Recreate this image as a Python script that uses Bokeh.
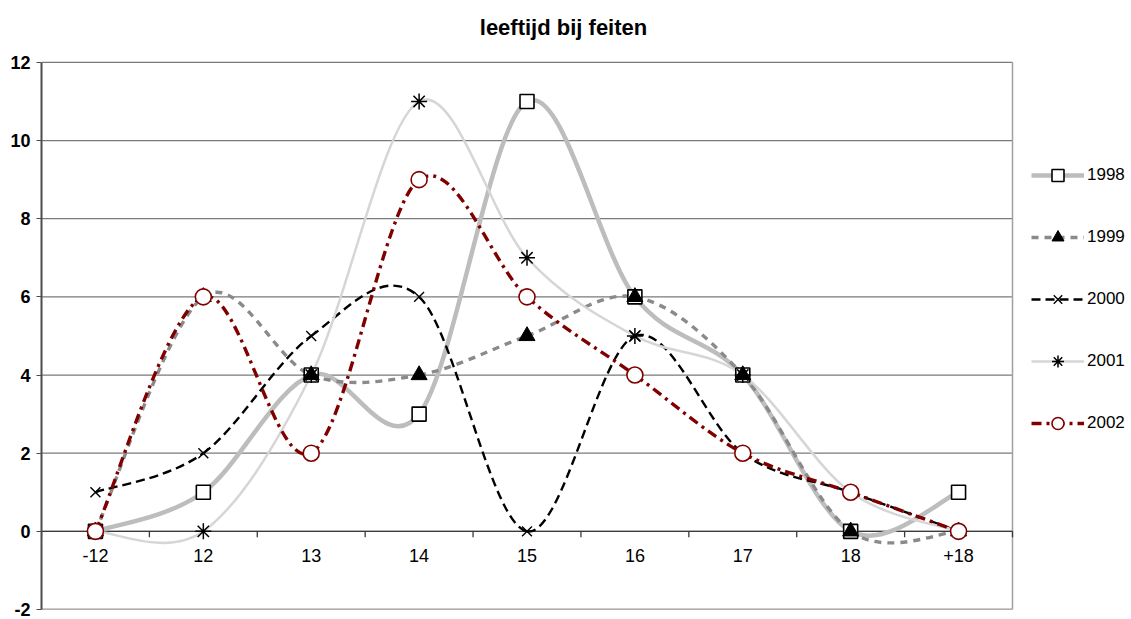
import numpy as np
from bokeh.plotting import figure
from bokeh.models import Range1d, FixedTicker, Legend, LegendItem
from bokeh.embed import file_html
from bokeh.resources import INLINE
from bokeh.core.properties import value

categories = ["-12", "12", "13", "14", "15", "16", "17", "18", "+18"]
years = ["1998", "1999", "2000", "2001", "2002"]
s1998 = [0, 1, 4, 3, 11, 6, 4, 0, 1]
s1999 = [0, 6, 4, 4, 5, 6, 4, 0, 0]
s2000 = [1, 2, 5, 6, 0, 5, 2, 1, 0]
s2001 = [0, 0, 4, 11, 7, 5, 4, 1, 0]
s2002 = [0, 6, 2, 9, 6, 4, 2, 1, 0]
y_ticks = [-2, 0, 2, 4, 6, 8, 10, 12]
title_text = "leeftijd bij feiten"
series = [s1998, s1999, s2000, s2001, s2002]

FONT = "Liberation Sans"

styles = [
    dict(line_color="#bdbdbd", line_width=4.5, line_dash="solid"),
    dict(line_color="#8a8a8a", line_width=3.4, line_dash="7 6"),
    dict(line_color="#000000", line_width=2.4, line_dash="9 5"),
    dict(line_color="#d6d6d6", line_width=2.5, line_dash="solid"),
    dict(line_color="#800000", line_width=3.4, line_dash="10 5 3 5"),
]
markers = [
    dict(marker="square", size=14, fill_color="white", line_color="black", line_width=1.6),
    dict(marker="triangle", size=16, fill_color="black", line_color="black", line_width=1),
    dict(marker="x", size=14, fill_color=None, line_color="black", line_width=1.4),
    dict(marker="asterisk", size=16, fill_color=None, line_color="black", line_width=1.5),
    dict(marker="circle", size=16, fill_color="white", line_color="#800000", line_width=1.6),
]

# layout (pixels): plot area is 971 x 548 starting at (41, 62); the frame
# extends to the top and right so that title and legend can sit inside it
W, H = 1128, 619
LEFT, PLOT_TOP, BOTTOM = 41, 62, 10
PLOT_W, PLOT_H = 971, 548
TITLE_CX, TITLE_CY = 563, 27
FRAME_W = W - LEFT
n = len(categories)
ymin, ymax = min(y_ticks), max(y_ticks)
px_x = PLOT_W / n
px_y = PLOT_H / (ymax - ymin)
x_end = -0.5 + FRAME_W / px_x
y_end = ymax + PLOT_TOP / px_y
edge = n - 0.5

p = figure(width=W, height=H, output_backend="svg", toolbar_location=None,
           x_range=Range1d(-0.5, x_end), y_range=Range1d(ymin, y_end),
           x_axis_location=None, min_border_left=LEFT, min_border_top=0,
           min_border_right=0, min_border_bottom=BOTTOM,
           background_fill_color="white", border_fill_color="white")
p.outline_line_color = None
p.xgrid.visible = False
p.ygrid.visible = False

ya = p.yaxis[0]
ya.ticker = FixedTicker(ticks=y_ticks)
ya.bounds = (ymin, ymax)
ya.major_label_overrides = {t: str(t) for t in y_ticks}
ya.major_label_text_font = FONT
ya.major_label_text_font_size = "18px"
ya.major_label_text_font_style = "bold"
ya.major_label_text_color = "black"
ya.major_tick_out = 5
ya.major_tick_in = 0
ya.minor_tick_out = 0
ya.minor_tick_in = 0
ya.axis_line_color = "#4d4d4d"
ya.axis_line_width = 2
ya.major_tick_line_color = "#4d4d4d"
ya.major_label_standoff = 6

# title
p.text(x=[-0.5 + (TITLE_CX - LEFT) / px_x], y=[ymax], text=[title_text],
       y_offset=-(PLOT_TOP - TITLE_CY), text_font=value(FONT), text_font_size="22px",
       text_font_style="bold", text_color="black", text_align="center",
       text_baseline="middle")

yt = np.array(y_ticks, dtype=float)
# horizontal gridlines over the plot area
p.segment(x0=np.full_like(yt, -0.5), y0=yt, x1=np.full_like(yt, edge), y1=yt,
          line_color="#7a7a7a", line_width=1.3)
# plot-area border (right and bottom)
p.segment(x0=[edge], y0=[ymin], x1=[edge], y1=[ymax], line_color="#a0a0a0", line_width=1.5)
p.segment(x0=[-0.5], y0=[ymin], x1=[edge], y1=[ymin], line_color="#a0a0a0", line_width=1.5)

# category axis at y = 0
xi = np.arange(n, dtype=float)
p.segment(x0=[-0.5], y0=[0], x1=[edge], y1=[0], line_color="#3a3a3a", line_width=1.3)
bounds = np.arange(n + 1) - 0.5
p.segment(x0=bounds, y0=np.zeros_like(bounds), x1=bounds, y1=np.full_like(bounds, -6 / px_y),
          line_color="#3a3a3a", line_width=1.3)
p.text(x=xi, y=np.zeros_like(xi), text=categories, text_font=value(FONT),
       text_font_size="18px", text_align="center", text_baseline="middle",
       y_offset=24, text_color="black")


def smooth(y):
    y = np.asarray(y, dtype=float)
    m = len(y)
    ext = np.concatenate([[y[0]], y, [y[-1]]])
    xe = np.concatenate([[xi[0]], xi, [xi[-1]]])
    x0 = xi[:-1]; x1 = xi[1:]
    y0 = y[:-1]; y1 = y[1:]
    cx0 = x0 + (xe[2:m + 1] - xe[0:m - 1]) / 6
    cy0 = y0 + (ext[2:m + 1] - ext[0:m - 1]) / 6
    cx1 = x1 - (xe[3:m + 2] - xe[1:m]) / 6
    cy1 = y1 - (ext[3:m + 2] - ext[1:m]) / 6
    return dict(x0=x0, y0=y0, x1=x1, y1=y1, cx0=cx0, cy0=cy0, cx1=cx1, cy1=cy1)


curves = [p.bezier(**smooth(s), **st) for s, st in zip(series, styles)]
points = [p.scatter(x=xi, y=s, **mk) for s, mk in zip(series, markers)]

items = [LegendItem(label=yr, renderers=[c, m]) for yr, c, m in zip(years, curves, points)]
legend = Legend(items=items, location=(PLOT_W + 19, 171), orientation="vertical",
                glyph_width=53, glyph_height=30, spacing=32, label_standoff=3,
                label_text_font=FONT, label_text_font_size="17px", label_height=20,
                label_text_color="black",
                padding=0, margin=0, border_line_alpha=0, background_fill_alpha=0)
p.add_layout(legend, "center")

open("out.html", "w").write(file_html(p, INLINE))
